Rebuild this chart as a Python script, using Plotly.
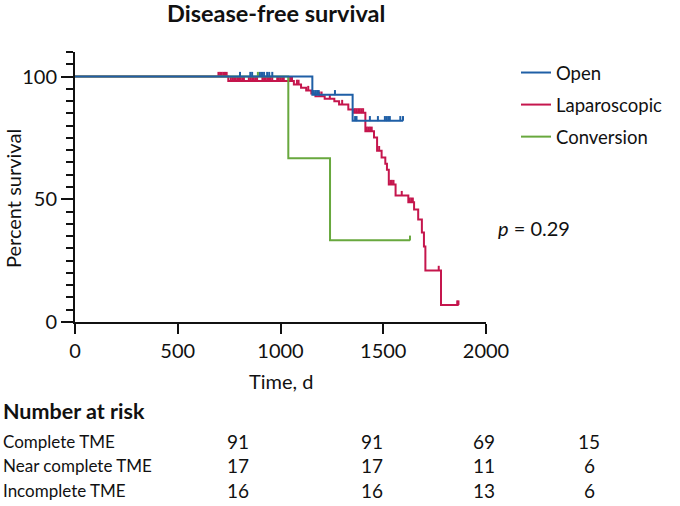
import plotly.graph_objects as go

# ---------------- data ----------------
# Kaplan-Meier step points (time in days, percent survival after the step)
open_t = [0, 1155, 1351]
open_s = [100, 92.6, 82.0]
open_end = 1596
open_cens_t = [803, 853, 862, 900, 910, 920, 935, 945, 960,
               1162, 1170, 1178, 1186, 1265,
               1363, 1370, 1435, 1474, 1508, 1516, 1524, 1532, 1583, 1596]
open_cens_s = [100] * 9 + [92.6] * 5 + [82.0] * 10

lap_t = [0, 746, 1065, 1100, 1125, 1150, 1170, 1215, 1262, 1285, 1330, 1355,
         1413, 1455, 1470, 1492, 1510, 1518, 1527, 1560, 1622, 1650, 1670,
         1688, 1698, 1705, 1781]
lap_s = [100, 98.2, 96.8, 95.4, 94.3, 93.1, 92.0, 91.0, 89.9, 88.6, 86.6, 85.2,
         77.7, 75.2, 69.8, 67.0, 64.5, 62.0, 56.0, 51.5, 48.8, 45.8, 41.8,
         36.5, 30.8, 21.0, 6.9]
lap_end = 1866
lap_cens_t = [698, 706, 714, 722, 730, 738,
              758, 766, 774, 782, 790, 798, 806, 814, 822,
              846, 854, 862, 870, 878, 886,
              912, 920, 928, 936, 944, 952, 960,
              984, 992, 1000, 1008, 1016, 1040, 1048, 1056,
              1080, 1088, 1135, 1190, 1200, 1240, 1300,
              1362, 1370, 1378, 1386, 1394, 1402,
              1420, 1428, 1436, 1444, 1480,
              1535, 1542, 1550, 1590, 1628, 1636, 1644,
              1770, 1860, 1866]
lap_cens_s = ([100] * 6 + [98.2] * 30 + [96.8] * 2 + [94.3] + [92.0] * 2 + [91.0] + [88.6]
              + [85.2] * 6 + [77.7] * 4 + [69.8] + [56.0] * 3 + [51.5] + [48.8] * 3
              + [21.0] + [6.9] * 2)

conv_t = [0, 1038, 1241]
conv_s = [100, 66.7, 33.3]
conv_end = 1630
conv_cens_t = [890, 1630]
conv_cens_s = [100, 33.3]

# number at risk table
risk_rows = ["Complete TME", "Near complete TME", "Incomplete TME"]
risk_complete = [91, 91, 69, 15]
risk_near = [17, 17, 11, 6]
risk_incomplete = [16, 16, 13, 6]

x_ticks = [0, 500, 1000, 1500, 2000]
y_ticks = [0, 50, 100]

BLUE = "#1f5fa6"
RED = "#c5164d"
GREEN = "#68a83e"
FONT = "Lato"
TICK_H = 1.9

fig = go.Figure()


def add_group(name, t, s, end, ct, cs, color, rank):
    fig.add_trace(go.Scatter(
        x=t + [end], y=s + [s[-1]], mode="lines", name=name,
        line=dict(color=color, width=2, shape="hv"), legendrank=rank,
        legendgroup=name))
    fig.add_trace(go.Scatter(
        x=ct, y=cs, mode="markers", showlegend=False, legendgroup=name,
        marker=dict(size=1, color=color),
        error_y=dict(type="data", symmetric=False, array=[TICK_H] * len(ct),
                     arrayminus=[0] * len(ct), width=0, thickness=2, color=color)))


add_group("Laparoscopic", lap_t, lap_s, lap_end, lap_cens_t, lap_cens_s, RED, 2)
add_group("Conversion", conv_t, conv_s, conv_end, conv_cens_t, conv_cens_s, GREEN, 3)
add_group("Open", open_t, open_s, open_end, open_cens_t, open_cens_s, BLUE, 1)

# geometry helpers (pixel -> paper)
L, R, T, B, W, H = 75, 194, 52, 184, 680, 506
PW, PH = W - L - R, H - T - B


def px(x):
    return (x - L) / PW


def py(y):
    return (H - B - y) / PH


def note(text, x, y, size, xanchor="center", angle=0):
    return dict(text=text, x=px(x), y=py(y), xref="paper", yref="paper",
                xanchor=xanchor, yanchor="middle", showarrow=False,
                textangle=angle, font=dict(size=size, family=FONT, color="#111"))


ann = [
    note("<b>Disease-free survival</b>", 276, 13, 23.5),
    note("Percent survival", 13, 198, 20, angle=-90),
    note("Time, d", 281, 381, 20),
    note("<i>p</i> = 0.29", 496, 228, 20, xanchor="left"),
    note("<b>Number at risk</b>", 1, 411, 21.5, xanchor="left"),
]
col_x = [238, 372, 484, 589]
row_y = [441, 466, 491]
for label, vals, yy in zip(risk_rows, [risk_complete, risk_near, risk_incomplete], row_y):
    ann.append(note(label, 1, yy, 17, xanchor="left"))
    for v, xx in zip(vals, col_x):
        ann.append(note(str(v), xx, yy, 19))

fig.update_layout(
    width=W, height=H,
    margin=dict(l=L, r=R, t=T, b=B),
    plot_bgcolor="white", paper_bgcolor="white",
    font=dict(family=FONT, size=20, color="#111"),
    showlegend=True,
    legend=dict(x=px(516), y=py(54), xanchor="left", yanchor="top",
                font=dict(size=18.5, family=FONT, color="#111"),
                tracegroupgap=5, bgcolor="rgba(0,0,0,0)"),
    annotations=ann,
)
fig.update_xaxes(range=[0, 2000], tickvals=x_ticks, ticks="outside", ticklen=10,
                 tickwidth=2, tickcolor="#111", showline=True, linewidth=2,
                 linecolor="#111", showgrid=False, zeroline=False,
                 tickfont=dict(size=20, family=FONT, color="#111"))
fig.update_yaxes(range=[0, 110], tickvals=y_ticks, ticks="outside", ticklen=12,
                 tickwidth=2, tickcolor="#111", showline=True, linewidth=2,
                 linecolor="#111", showgrid=False, zeroline=False,
                 minor=dict(dtick=5, tick0=0, ticks="outside", ticklen=7,
                            tickwidth=2, tickcolor="#111", showgrid=False),
                 tickfont=dict(size=20, family=FONT, color="#111"))

fig.write_html("out.html", config={"displayModeBar": False},
               post_script="document.body.style.margin='0';")
